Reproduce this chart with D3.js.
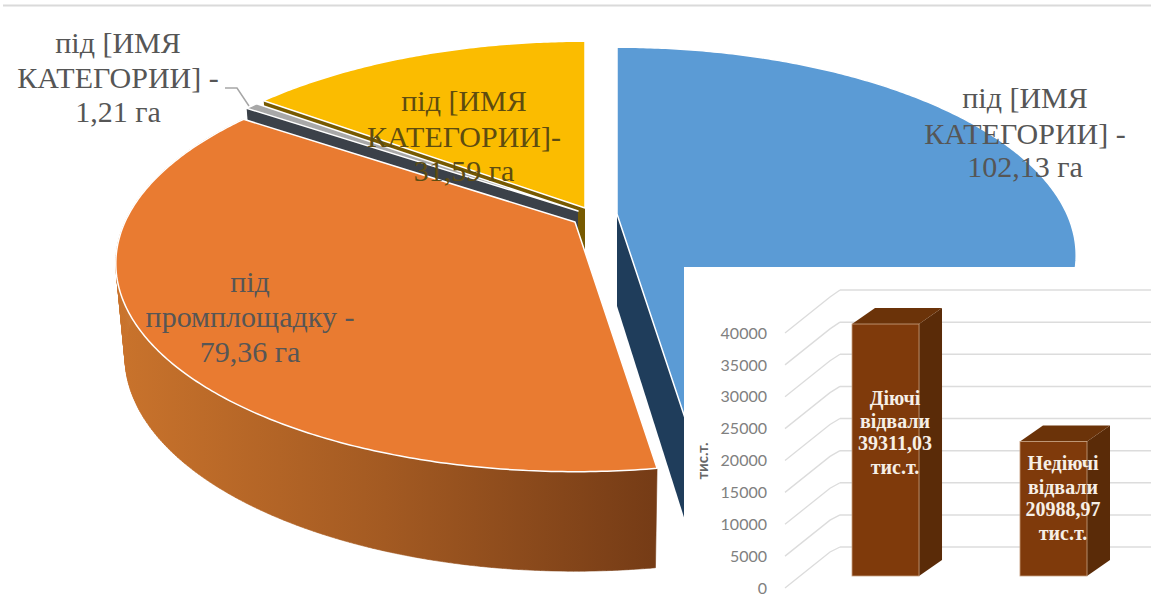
<!DOCTYPE html>
<html>
<head>
<meta charset="utf-8">
<script src="https://cdn.jsdelivr.net/npm/d3@7"></script>
<style>
html,body{margin:0;padding:0;background:#fff;}
svg{display:block;}
text.serif{font-family:"Liberation Serif","Times New Roman",Times,serif;}
</style>
</head>
<body>
<svg id="chart" width="1151" height="612"></svg>
<script>
// Land use, hectares
const landCategories = ["під [ИМЯ КАТЕГОРИИ]", "під промплощадку", "під [ИМЯ КАТЕГОРИИ]", "під [ИМЯ КАТЕГОРИИ]"];
const landValues = [102.13, 79.36, 1.21, 31.59];
const landTopColors = ["#5b9bd5", "#e97b31", "#a8a8a8", "#fbbc00"];
const landFaceColors = ["#1f3d5b", "#7a3f17", "#3b4149", "#775a00"];
const landApexX = [617, 575, 578, 585];
const landApexY = [214, 222, 211, 208];

// Waste dumps, thousand tonnes
const dumpNames = ["Діючі відвали", "Недіючі відвали"];
const dumpValues = [39311.03, 20988.97];
const axisTicks = [0, 5000, 10000, 15000, 20000, 25000, 30000, 35000, 40000];

// Slice labels, one array entry per line
const sliceLabels = [
  {x: 1025, ys: [108, 144, 177], lines: ["під [ИМЯ", "КАТЕГОРИИ] -", "102,13 га"]},
  {x: 250, ys: [292, 327, 362], lines: ["під", "промплощадку -", "79,36 га"]},
  {x: 118, ys: [53, 88, 122], lines: ["під [ИМЯ", "КАТЕГОРИИ] -", "1,21 га"]},
  {x: 464, ys: [111, 147, 181], lines: ["під [ИМЯ", "КАТЕГОРИИ]-", "31,59 га"]}
];

const svg = d3.select("#chart");
const defs = svg.append("defs");

// Rule along the top of the figure
svg.append("line").attr("x1", 3).attr("x2", 1151).attr("y1", 5.5).attr("y2", 5.5)
  .attr("stroke", "#dadada").attr("stroke-width", 2);

// Perspective view of the tilted pie: angle 0 points away from the viewer.
const tiltK = 0.199, radiusX = 450, radiusY = 200;
const drop = 92, floorScaleX = 0.98, floorScaleY = 1.03;

function project(angle, cx, cy, lower) {
  const w = 1 + tiltK * Math.cos(angle);
  const sx = lower ? floorScaleX : 1, sy = lower ? floorScaleY : 1;
  return [
    cx + sx * radiusX * Math.sin(angle) / w,
    cy + (lower ? drop : 0) - sy * radiusY * Math.cos(angle) / w
  ];
}

function rim(a0, a1, cx, cy, lower) {
  const n = Math.max(2, Math.ceil((a1 - a0) / 0.01));
  return d3.range(n + 1).map(i => project(a0 + (a1 - a0) * i / n, cx, cy, lower));
}

const slices = d3.pie().sort(null).value(d => d)(landValues);
const pathOf = d3.line();

const sideGrad = defs.append("linearGradient")
  .attr("id", "orangeSide").attr("gradientUnits", "userSpaceOnUse")
  .attr("x1", 118).attr("x2", 652).attr("y1", 0).attr("y2", 0);
sideGrad.append("stop").attr("offset", 0).attr("stop-color", "#c9732c");
sideGrad.append("stop").attr("offset", 0.5).attr("stop-color", "#a35a22");
sideGrad.append("stop").attr("offset", 1).attr("stop-color", "#763c16");

const pieLayer = svg.append("g");

function cutFace(i, angle) {
  const cx = landApexX[i], cy = landApexY[i];
  const pts = [[cx, cy], project(angle, cx, cy, false), project(angle, cx, cy, true), [cx, cy + drop]];
  pieLayer.append("path").attr("d", pathOf(pts) + "Z").attr("fill", landFaceColors[i]);
}

// The wall is the sweep of short vertical-ish strips between the two rims,
// which keeps the silhouette straight where it leaves the top rim.
function outerWall(i, fill) {
  const s = slices[i], cx = landApexX[i], cy = landApexY[i];
  const upper = rim(s.startAngle, s.endAngle, cx, cy, false);
  const lower = rim(s.startAngle, s.endAngle, cx, cy, true);
  const d = d3.range(upper.length - 1).map(k =>
    pathOf([upper[k], upper[k + 1], lower[k + 1], lower[k]]) + "Z").join("");
  pieLayer.append("path").attr("d", d).attr("fill", fill)
    .attr("stroke", fill).attr("stroke-width", 0.6);
}

function topFace(i) {
  const s = slices[i], cx = landApexX[i], cy = landApexY[i];
  const pts = [[cx, cy]].concat(rim(s.startAngle, s.endAngle, cx, cy, false));
  pieLayer.append("path").attr("d", pathOf(pts) + "Z")
    .attr("fill", landTopColors[i]).attr("stroke", "#fff").attr("stroke-width", 1.5)
    .attr("stroke-linejoin", "round");
}

// Painted back to front: yellow, grey, blue, then the large orange slice.
cutFace(3, slices[3].startAngle);
topFace(3);
cutFace(2, slices[2].startAngle);
topFace(2);
cutFace(0, slices[0].endAngle);
topFace(0);
outerWall(1, "url(#orangeSide)");
topFace(1);

// Leader from the small grey slice to its label
const leader = [[225, 88], [237, 88], [249, 106]];
pieLayer.append("path").attr("d", pathOf(leader))
  .attr("fill", "none").attr("stroke", "#a6a6a6").attr("stroke-width", 1.5);

// Inset panel sits over the lower right of the blue slice
const inset = svg.append("g");
inset.append("rect").attr("x", 684).attr("y", 267).attr("width", 467).attr("height", 345).attr("fill", "#fff");

const barFrontY = d3.scaleLinear().domain([0, 40000]).range([576, 319.6]);
const axisY = d3.scaleLinear().domain([0, 40000]).range([588, 333]);
const wallY = d3.scaleLinear().domain([0, 40000]).range([547, 290]);
const barX = d3.scaleBand().domain(dumpNames).range([852, 1087]).paddingInner(0.601).paddingOuter(0);

// Floor-to-wall segments and the wall gridlines
inset.selectAll("path.depth").data(axisTicks).join("path").attr("class", "depth")
  .attr("d", d => pathOf([[785, axisY(d)], [830, axisY(d) - 36], [840, wallY(d)]]))
  .attr("fill", "none").attr("stroke", "#dcdcdc").attr("stroke-width", 1.3);
inset.selectAll("line.grid").data(axisTicks).join("line").attr("class", "grid")
  .attr("x1", 840).attr("x2", 1151).attr("y1", d => wallY(d)).attr("y2", d => wallY(d))
  .attr("stroke", "#dcdcdc").attr("stroke-width", 1.5);

// Value axis labels come from the axis generator
const axisG = inset.append("g").attr("transform", "translate(772,0)")
  .call(d3.axisLeft(axisY).tickValues(axisTicks).tickFormat(d3.format("d")).tickSize(0).tickPadding(5));
axisG.select(".domain").remove();
axisG.selectAll("text")
  .attr("font-family", "Lato, sans-serif").attr("font-size", 16).attr("fill", "#808080");

inset.append("text").attr("transform", "translate(708,461) rotate(-90)")
  .attr("text-anchor", "middle").attr("font-family", "Lato, sans-serif")
  .attr("font-size", 15).attr("font-weight", 700).attr("fill", "#666").text("тис.т.");

// Extruded bars
const depthX = 23, depthY = 16;
const bars = inset.selectAll("g.bar").data(dumpValues).join("g").attr("class", "bar");
bars.each(function(v, i) {
  const g = d3.select(this);
  const x0 = barX(dumpNames[i]), x1 = x0 + barX.bandwidth();
  const y0 = barFrontY(0), y1 = barFrontY(v);
  g.append("path").attr("fill", "#5a2b08")
    .attr("d", pathOf([[x1, y1], [x1 + depthX, y1 - depthY], [x1 + depthX, y0 - depthY], [x1, y0]]) + "Z");
  g.append("path").attr("fill", "#6b3309")
    .attr("d", pathOf([[x0, y1], [x0 + depthX, y1 - depthY], [x1 + depthX, y1 - depthY], [x1, y1]]) + "Z");
  g.append("rect").attr("x", x0).attr("y", y1).attr("width", x1 - x0).attr("height", y0 - y1)
    .attr("fill", "#7f3a0b").attr("stroke", "#c9a283").attr("stroke-width", 0.8);
});

// Labels on the bars
const barLabels = [
  {x: 895, ys: [405, 428, 450, 474], lines: ["Діючі", "відвали", "39311,03", "тис.т."]},
  {x: 1063, ys: [470, 494, 516, 540], lines: ["Недіючі", "відвали", "20988,97", "тис.т."]}
];
barLabels.forEach(label => label.lines.forEach((line, j) => {
  inset.append("text").attr("class", "serif").attr("x", label.x).attr("y", label.ys[j]).attr("text-anchor", "middle")
    .attr("font-weight", 700).attr("font-size", 20).attr("fill", "#f6efe6").text(line);
}));

// Slice labels on top of everything in the pie
sliceLabels.forEach((label, i) => label.lines.forEach((line, j) => {
  svg.append("text").attr("class", "serif").attr("x", label.x).attr("y", label.ys[j]).attr("text-anchor", "middle")
    .attr("font-size", 30).attr("fill", i === 3 ? "#5e4c10" : "#565656").text(line);
}));
</script>
</body>
</html>
